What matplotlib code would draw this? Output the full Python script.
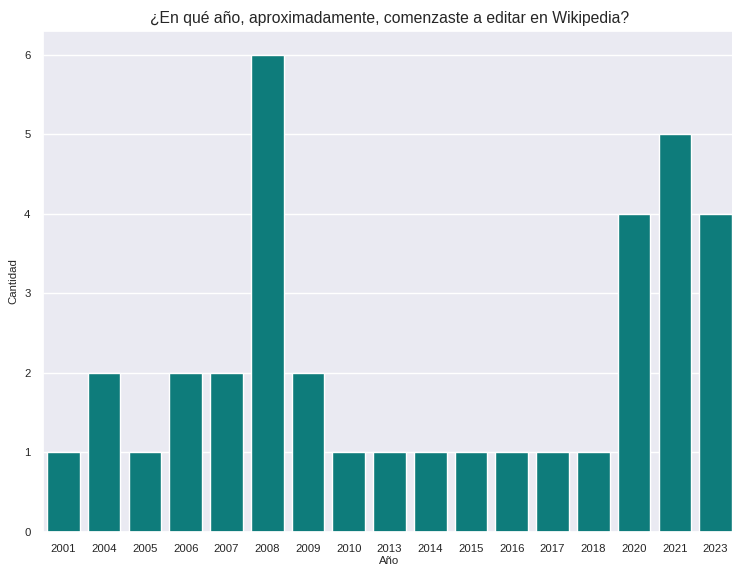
import matplotlib
matplotlib.use("Agg")
import matplotlib.pyplot as plt
import seaborn as sns
import pandas as pd

years = ["2001", "2004", "2005", "2006", "2007", "2008", "2009", "2010", "2013",
         "2014", "2015", "2016", "2017", "2018", "2020", "2021", "2023"]
counts = [1, 2, 1, 2, 2, 6, 2, 1, 1, 1, 1, 1, 1, 1, 4, 5, 4]

sns.set_theme(style="darkgrid")
plt.rcParams['font.family'] = ['Liberation Sans', 'DejaVu Sans']

df = pd.DataFrame({"Año": years, "Cantidad": counts})

W, H = 732, 565
fig = plt.figure(figsize=(W / 100, H / 100), dpi=100)
left, right, top, bottom = 43, 736, 31, 532
ax = fig.add_axes([left / W, 1 - bottom / H, (right - left) / W, (bottom - top) / H])
sns.barplot(data=df, x="Año", y="Cantidad", color="#0e7c7b", saturation=1, ax=ax)
ax.set_xlim(-0.5, len(years) - 0.5)
ax.set_ylim(0, 6.3)
ax.set_title("¿En qué año, aproximadamente, comenzaste a editar en Wikipedia?", fontsize=11.3, pad=6)
ax.tick_params(axis='both', labelsize=8.2, pad=3)
ax.set_xlabel("Año", fontsize=8.2, labelpad=1)
ax.set_ylabel("Cantidad", fontsize=8.2, labelpad=4)
fig.savefig("out.png", dpi=100)
